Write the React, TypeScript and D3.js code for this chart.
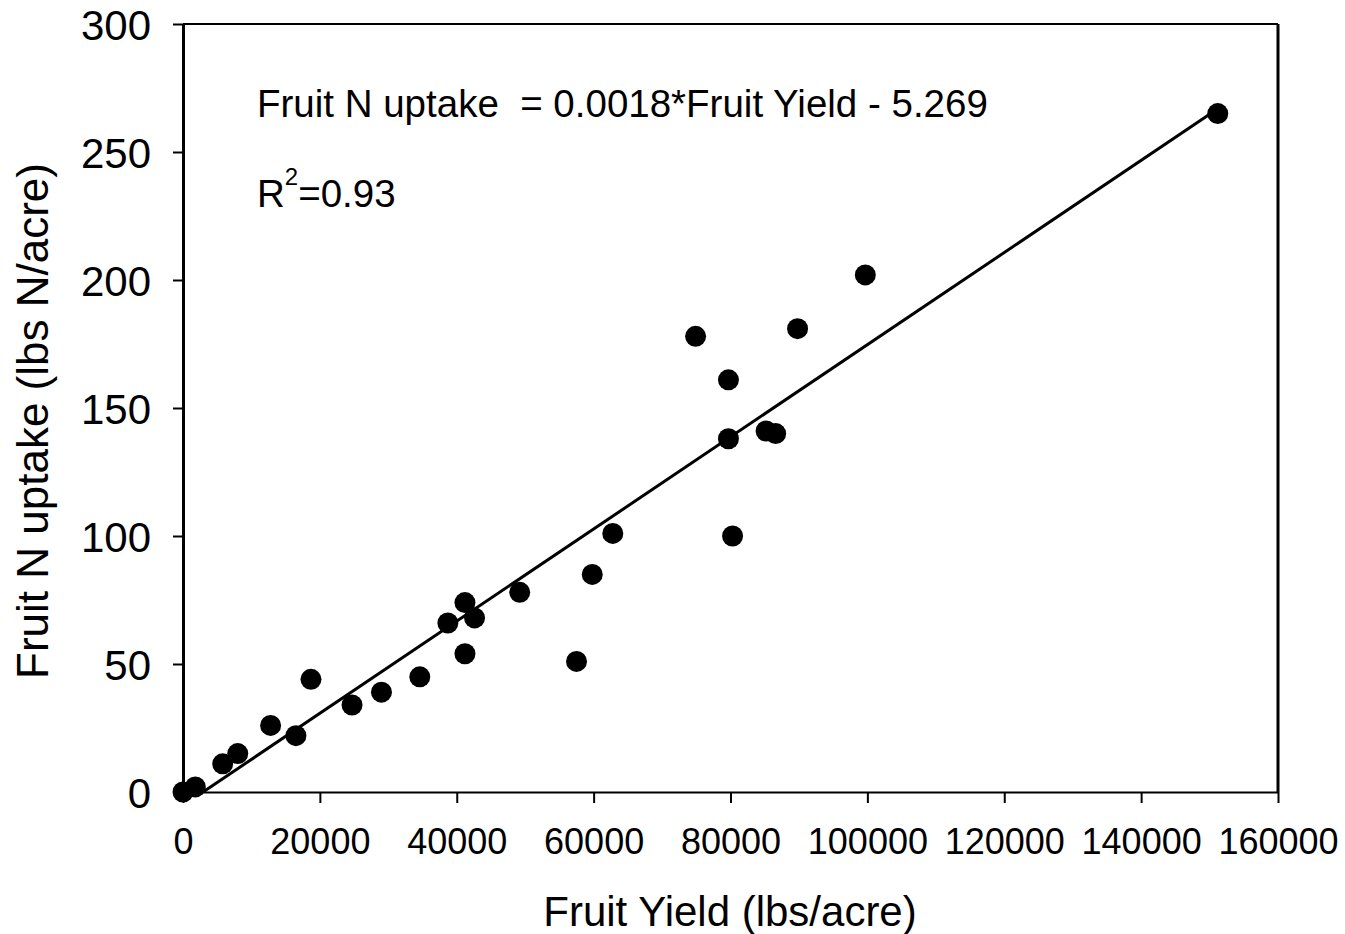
import React, { useEffect, useRef } from 'react';
import * as d3 from 'd3';

// fruit yield (lbs/acre) and fruit N uptake (lbs N/acre)
const yieldValues = [0, 1800, 5800, 8000, 12800, 16500, 18700, 24700, 29000, 34600, 38700, 41200, 42600, 41200, 49200, 57500, 59800, 62800, 74900, 79700, 79700, 80300, 85200, 86600, 89800, 99700, 151200];
const uptakeValues = [0, 2, 11, 15, 26, 22, 44, 34, 39, 45, 66, 74, 68, 54, 78, 51, 85, 101, 178, 161, 138, 100, 141, 140, 181, 202, 265];

const xTicks = [0, 20000, 40000, 60000, 80000, 100000, 120000, 140000, 160000];
const yTicks = [0, 50, 100, 150, 200, 250, 300];

const slope = 0.0018;
const intercept = -5.269;

const FONT = '"Liberation Sans", Arial, sans-serif';

export default function App() {
    const ref = useRef<SVGSVGElement>(null);

    useEffect(() => {
        const svg = d3.select(ref.current);
        svg.selectAll('*').remove();

        const margin = { top: 24, right: 67, bottom: 142, left: 183 };
        const width = 1345 - margin.left - margin.right;
        const height = 934 - margin.top - margin.bottom;

        const g = svg.append('g').attr('transform', `translate(${margin.left},${margin.top})`);

        const x = d3.scaleLinear().domain([0, 160000]).range([0, width]);
        const y = d3.scaleLinear().domain([0, 300]).range([height, 0]);

        // top and right frame
        g.append('line').attr('x1', 0).attr('x2', width).attr('y1', 0).attr('y2', 0)
            .attr('stroke', '#000').attr('stroke-width', 2);
        g.append('line').attr('x1', width).attr('x2', width).attr('y1', 0).attr('y2', height)
            .attr('stroke', '#000').attr('stroke-width', 3);

        // x axis
        const xAxis = g.append('g').attr('transform', `translate(0,${height})`)
            .call(d3.axisBottom(x).tickValues(xTicks).tickSize(11).tickSizeOuter(0).tickFormat(d3.format('d')));
        xAxis.select('.domain').attr('stroke-width', 2);
        xAxis.selectAll('.tick line').attr('stroke-width', 2);
        xAxis.selectAll('.tick text')
            .attr('font-family', FONT).attr('font-size', 36).attr('fill', '#000')
            .attr('y', 62).attr('dy', 0);

        // y axis
        const yAxis = g.append('g')
            .call(d3.axisLeft(y).tickValues(yTicks).tickSize(10).tickSizeOuter(0));
        yAxis.select('.domain').attr('stroke-width', 3);
        yAxis.selectAll('.tick line').attr('stroke-width', 2);
        yAxis.selectAll('.tick text')
            .attr('font-family', FONT).attr('font-size', 42).attr('fill', '#000')
            .attr('x', -32).attr('dy', '0.36em');

        // axis labels
        svg.append('text')
            .attr('x', 730).attr('y', 926)
            .attr('text-anchor', 'middle')
            .attr('font-family', FONT).attr('font-size', 42)
            .text('Fruit Yield (lbs/acre)');

        svg.append('text')
            .attr('transform', 'translate(48,421) rotate(-90)')
            .attr('text-anchor', 'middle')
            .attr('font-family', FONT).attr('font-size', 44)
            .text('Fruit N uptake (lbs N/acre)');

        // regression line
        const x0 = -intercept / slope;
        const x1 = d3.max(yieldValues) as number;
        g.append('line')
            .attr('x1', x(x0)).attr('y1', y(slope * x0 + intercept))
            .attr('x2', x(x1)).attr('y2', y(slope * x1 + intercept))
            .attr('stroke', '#000').attr('stroke-width', 3);

        // points
        g.selectAll('circle')
            .data(yieldValues.map((v, i) => [v, uptakeValues[i]]))
            .join('circle')
            .attr('cx', d => x(d[0]))
            .attr('cy', d => y(d[1]))
            .attr('r', 10.5)
            .attr('fill', '#000');

        // equation and r squared
        svg.append('text')
            .attr('x', 257).attr('y', 117)
            .attr('font-family', FONT).attr('font-size', 38.5)
            .attr('xml:space', 'preserve')
            .style('white-space', 'pre')
            .text('Fruit N uptake  = 0.0018*Fruit Yield - 5.269');

        const r2 = svg.append('text')
            .attr('x', 257).attr('y', 207)
            .attr('font-family', FONT).attr('font-size', 38.5);
        r2.append('tspan').text('R');
        r2.append('tspan').attr('font-size', 24).attr('dy', -22).text('2');
        r2.append('tspan').attr('dy', 22).text('=0.93');
    }, []);

    return (
        <svg ref={ref} width={1345} height={934}
            style={{ position: 'absolute', left: 0, top: 0, background: '#fff' }} />
    );
}
